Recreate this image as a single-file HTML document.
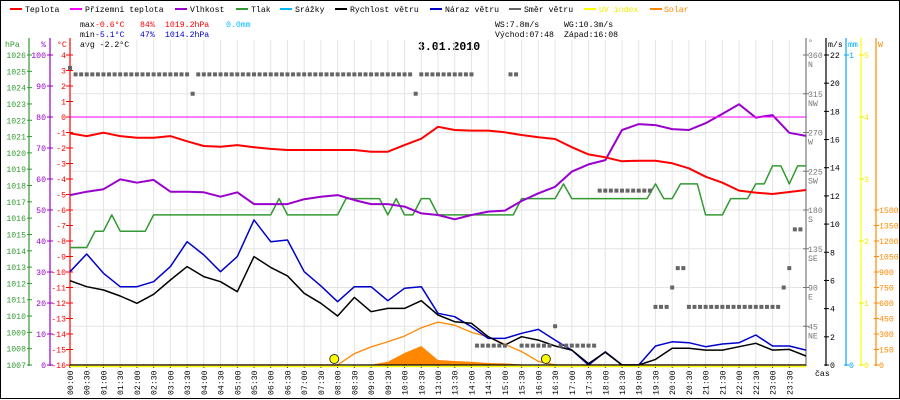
<!DOCTYPE html>
<html><head><meta charset="utf-8"><style>
html,body{margin:0;padding:0;background:#fff}
svg{display:block}
text{font-family:"Liberation Mono",monospace;font-size:8.2px}
</style></head><body>
<svg id="c" width="900" height="400" viewBox="0 0 900 400" xmlns="http://www.w3.org/2000/svg">
<rect x="0.5" y="0.5" width="899" height="398" fill="#fff" stroke="#000"/>
<g id="legend">
<g><rect x="10" y="8" width="12" height="2" fill="#f00"/><text x="25" y="12">Teplota</text></g>
<g><rect x="70" y="8" width="12" height="2" fill="#f0f"/><text x="85" y="12">Přízemní teplota</text></g>
<g><rect x="175" y="8" width="12" height="2" fill="#90c"/><text x="190" y="12">Vlhkost</text></g>
<g><rect x="236" y="8" width="12" height="2" fill="#393"/><text x="251" y="12">Tlak</text></g>
<g><rect x="280" y="8" width="12" height="2" fill="#0bf"/><text x="295" y="12">Srážky</text></g>
<g><rect x="335" y="8" width="12" height="2" fill="#000"/><text x="350" y="12">Rychlost větru</text></g>
<g><rect x="430" y="8" width="12" height="2" fill="#00c"/><text x="445" y="12">Náraz větru</text></g>
<g><rect x="509" y="8" width="12" height="2" fill="#666"/><text x="524" y="12">Směr větru</text></g>
<g><rect x="584" y="8" width="12" height="2" fill="#ff0"/><text x="599" y="12" fill="#ee0">UV index</text></g>
<g><rect x="650" y="8" width="12" height="2" fill="#f80"/><text x="664" y="12" fill="#f80">Solar</text></g>
</g>
<g>
<text x="80" y="27">max</text><text x="95" y="27" fill="#f00">-0.6°C</text><text x="140" y="27" fill="#f00">84%</text><text x="165" y="27" fill="#f00">1019.2hPa</text><text x="226" y="27" fill="#0bf">0.0mm</text>
<text x="80" y="37">min</text><text x="95" y="37" fill="#00c">-5.1°C</text><text x="140" y="37" fill="#00c">47%</text><text x="165" y="37" fill="#00c">1014.2hPa</text>
<text x="80" y="47">avg -2.2°C</text>
<text x="495" y="27">WS:7.8m/s</text><text x="564" y="27">WG:10.3m/s</text>
<text x="495" y="37">Východ:07:48</text><text x="564" y="37">Západ:16:08</text>
</g>
<text x="418" y="50" style="font-size:11.5px;font-weight:bold">3.01.2010</text>
<g id="grid"></g>
<g id="axes"></g>
<g id="series"></g>
</svg>
<script>
const timeLabels=["00:00","00:30","01:00","01:30","02:00","02:30","03:00","03:30","04:00","04:30","05:00","05:30","06:00","06:30","07:00","07:30","08:00","08:30","09:00","09:30","10:00","10:30","13:00","13:30","14:00","14:30","15:00","15:30","16:00","16:30","17:00","17:30","18:00","18:30","19:00","19:30","20:00","20:30","21:00","21:30","22:00","22:30","23:00","23:30"];
const temperature=[-1.05,-1.23,-1.01,-1.23,-1.34,-1.34,-1.23,-1.57,-1.87,-1.92,-1.81,-1.95,-2.06,-2.13,-2.13,-2.13,-2.13,-2.13,-2.24,-2.24,-1.81,-1.4,-0.63,-0.84,-0.88,-0.88,-0.99,-1.16,-1.31,-1.42,-1.95,-2.41,-2.6,-2.86,-2.82,-2.82,-2.99,-3.31,-3.85,-4.24,-4.75,-4.88,-4.97,-4.84,-4.71];
const apparentTemp=[0,0,0,0,0,0,0,0,0,0,0,0,0,0,0,0,0,0,0,0,0,0,0,0,0,0,0,0,0,0,0,0,0,0,0,0,0,0,0,0,0,0,0,0,0];
const humidity=[54.8,55.9,56.7,59.9,58.8,59.7,55.9,55.9,55.7,54.3,55.7,51.9,51.9,51.9,53.5,54.3,54.8,53.2,51.9,51.9,51.1,48.9,48.4,47,48.4,49.5,49.8,52.9,55.4,57.5,62.4,64.7,66.1,75.8,77.7,77.4,76.1,75.8,78,81,84.1,79.8,80.6,74.9,73.9];
const pressure=[1014.2,1014.2,1014.2,1015.2,1015.2,1016.2,1015.2,1015.2,1015.2,1015.2,1016.2,1016.2,1016.2,1016.2,1016.2,1016.2,1016.2,1016.2,1016.2,1016.2,1016.2,1016.2,1016.2,1016.2,1016.2,1017.2,1016.2,1016.2,1016.2,1016.2,1016.2,1016.2,1016.2,1017.2,1017.2,1017.2,1017.2,1017.2,1016.2,1017.2,1016.2,1016.2,1017.2,1017.2,1016.2,1016.2,1016.2,1016.2,1016.2,1016.2,1016.2,1016.2,1016.2,1016.2,1017.2,1017.2,1017.2,1017.2,1017.2,1018.1,1017.2,1017.2,1017.2,1017.2,1017.2,1017.2,1017.2,1017.2,1017.2,1017.2,1018.1,1017.2,1017.2,1018.1,1018.1,1018.1,1016.2,1016.2,1016.2,1017.2,1017.2,1017.2,1018.1,1018.1,1019.2,1019.2,1018.1,1019.2,1019.2];
const windSpeed=[5.98,5.56,5.32,4.9,4.38,5.02,6.03,6.98,6.27,5.91,5.2,7.69,6.93,6.32,5.09,4.38,3.48,4.8,3.78,4.02,4.02,4.56,3.55,3.07,2.96,2.01,1.42,2.01,1.77,1.35,1.06,0.1,0.9,0,0,0.4,1.19,1.19,1.06,1.06,1.3,1.54,1.06,1.11,0.64];
const windGust=[6.62,7.88,6.51,5.56,5.56,5.91,6.98,8.75,7.81,6.62,7.69,10.3,8.75,8.87,6.62,5.61,4.49,5.56,5.56,4.56,5.44,5.56,3.67,3.43,2.72,1.89,1.89,2.25,2.53,1.77,1.06,0,0.94,0,0,1.35,1.65,1.58,1.3,1.49,1.58,2.13,1.35,1.35,1.06];
const windDir=[345,337.5,337.5,337.5,337.5,337.5,337.5,337.5,337.5,337.5,337.5,337.5,337.5,337.5,337.5,337.5,337.5,337.5,337.5,337.5,337.5,337.5,315,337.5,337.5,337.5,337.5,337.5,337.5,337.5,337.5,337.5,337.5,337.5,337.5,337.5,337.5,337.5,337.5,337.5,337.5,337.5,337.5,337.5,337.5,337.5,337.5,337.5,337.5,337.5,337.5,337.5,337.5,337.5,337.5,337.5,337.5,337.5,337.5,337.5,337.5,337.5,315,337.5,337.5,337.5,337.5,337.5,337.5,337.5,337.5,337.5,337.5,22.5,22.5,22.5,22.5,22.5,22.5,337.5,337.5,22.5,22.5,22.5,22.5,22.5,22.5,45,22.5,22.5,22.5,22.5,22.5,22.5,22.5,202.5,202.5,202.5,202.5,202.5,202.5,202.5,202.5,202.5,202.5,67.5,67.5,67.5,90,112.5,112.5,67.5,67.5,67.5,67.5,67.5,67.5,67.5,67.5,67.5,67.5,67.5,67.5,67.5,67.5,67.5,67.5,67.5,90,112.5,157.5,157.5];
const solarMeasured=[0,0,0,0,0,0,0,0,0,0,0,0,0,0,0,0,0,0,3,32,116,184,48,39,32,19,15,5,0,0,0,0,0,0,0,0,0,0,0,0,0,0,0,0,0];
const solarTheoretical=[0,0,0,0,0,0,0,0,0,0,0,0,0,0,0,0,0,110,175,225,280,360,415,385,315,274,200,130,35,0,0,0,0,0,0,0,0,0,0,0,0,0,0,0,0];
const sunEvents=[15.8,28.45];
const tempTicks=[4,3,2,1,0,-1,-2,-3,-4,-5,-6,-7,-8,-9,-10,-11,-12,-13,-14,-15,-16];
const humTicks=[100,90,80,70,60,50,40,30,20,10,0];
const presTicks=[1026,1025,1024,1023,1022,1021,1020,1019,1018,1017,1016,1015,1014,1013,1012,1011,1010,1009,1008,1007];
const dirTicks=[360,315,270,225,180,135,90,45];
const dirNames=["N","NW","W","SW","S","SE","E","NE"];
const windTicks=[22,20,18,16,14,12,10,8,6,4,2,0];
const uvTicks=[5,4,3,2,1,0];
const solarTicks=[1500,1350,1200,1050,900,750,600,450,300,150,0];

const NS="http://www.w3.org/2000/svg";
const T=55,B=365,L=70,R=806;
const X=i=>L+i*(R-L)/44;
const Xd=k=>L+k*(R-L)/132;
const yT=v=>T+(4-v)*(B-T)/20;
const yH=v=>B-v*(B-T)/100;
const yP=v=>T+(1026-v)*(B-T)/19;
const yD=v=>B-v*(B-T)/360;
const yW=v=>B-v*(B-T)/22;
const yU=v=>B-v*(B-T)/5;
const yS=v=>B-v*15.5/150;
function el(tag,attrs,parent,txt){const e=document.createElementNS(NS,tag);for(const k in attrs)e.setAttribute(k,attrs[k]);if(txt!==undefined)e.textContent=txt;parent.appendChild(e);return e;}
const grid=document.getElementById('grid'),axes=document.getElementById('axes'),ser=document.getElementById('series');
// grid
for(let i=0;i<=44;i++){const g=el('line',{x1:X(i),x2:X(i),y1:40,y2:B,stroke:'#e4e4e4'},grid);

}
dirTicks.forEach(d=>{if(d===360)return;const g=el('line',{x1:L,x2:R,y1:yD(d),y2:yD(d),stroke:'#e4e4e4'},grid);

});
// left axes
function vaxis(x,color,name){const a=el('line',{x1:x,x2:x,y1:38,y2:B+1,stroke:color,'stroke-width':1.2},axes);

}
vaxis(29,'#393','pressure-axis');vaxis(50,'#90c','humidity-axis');vaxis(70,'#f00','temperature-axis');
el('text',{x:5,y:47,fill:'#393'},axes,'hPa');el('text',{x:41,y:47,fill:'#90c'},axes,'%');el('text',{x:57,y:47,fill:'#f00'},axes,'°C');
presTicks.forEach(v=>{el('line',{x1:27,x2:32,y1:yP(v),y2:yP(v),stroke:'#393'},axes);const t=el('text',{x:26,y:yP(v)+3,'text-anchor':'end',fill:'#393'},axes,v);

});
humTicks.forEach(v=>{el('line',{x1:47,x2:53,y1:yH(v),y2:yH(v),stroke:'#90c'},axes);const t=el('text',{x:46,y:yH(v)+3,'text-anchor':'end',fill:'#90c'},axes,v);

});
tempTicks.forEach(v=>{el('line',{x1:66,x2:73,y1:yT(v),y2:yT(v),stroke:'#f00'},axes);const t=el('text',{x:66,y:yT(v)+3,'text-anchor':'end',fill:'#f00'},axes,v);

});
// right axes
vaxis(806,'#777','direction-axis');vaxis(826,'#000','wind-axis');vaxis(846,'#0af','rain-axis');vaxis(861,'#ff0','uv-axis');vaxis(876,'#f80','solar-axis');
el('text',{x:808,y:45,fill:'#777'},axes,'°');el('text',{x:828,y:47},axes,'m/s');el('text',{x:848,y:47,fill:'#0af'},axes,'mm');el('text',{x:878,y:47,fill:'#f80'},axes,'W');
dirTicks.forEach((d,j)=>{const y=yD(d);el('line',{x1:803,x2:809,y1:y,y2:y,stroke:'#777'},axes);const t=el('text',{x:808,y:y+3,fill:'#777'},axes,d);


el('text',{x:808,y:y+12,fill:'#777'},axes,dirNames[j]);});
windTicks.forEach(v=>{el('line',{x1:824,x2:829,y1:yW(v),y2:yW(v),stroke:'#000'},axes);const t=el('text',{x:830,y:yW(v)+3},axes,v);

});
[1,0].forEach(v=>{const y=B-v*(B-T);el('line',{x1:844,x2:849,y1:y,y2:y,stroke:'#0af'},axes);el('text',{x:849,y:y+3,fill:'#0af'},axes,v);});
uvTicks.forEach(v=>{el('line',{x1:859,x2:864,y1:yU(v),y2:yU(v),stroke:'#ee0'},axes);el('text',{x:864,y:yU(v)+3,fill:'#ee0'},axes,v);});
solarTicks.forEach(v=>{el('line',{x1:874,x2:879,y1:yS(v),y2:yS(v),stroke:'#f80'},axes);const t=el('text',{x:879,y:yS(v)+3,fill:'#f80'},axes,v);

});
// time labels
timeLabels.forEach((s,i)=>{el('line',{x1:X(i),x2:X(i),y1:B,y2:B+3,stroke:'#000'},axes);const t=el('text',{x:0,y:0,transform:`translate(${X(i)+3},395) rotate(-90)`},axes,s);

});
el('text',{x:815,y:376},axes,'čas');
// series
function line(arr,yf,xf,color,w,name){const p=arr.map((v,i)=>xf(i).toFixed(1)+','+yf(v).toFixed(1)).join(' ');const e=el('polyline',{points:p,fill:'none',stroke:color,'stroke-width':w,'stroke-linejoin':'round'},ser);

return e;}
const sp=solarMeasured.map((v,i)=>X(i).toFixed(1)+','+yS(v).toFixed(1)).join(' ');
const area=el('polygon',{points:`${X(0)},${B} ${sp} ${X(44)},${B}`,fill:'#f80'},ser);


line(solarTheoretical,yS,X,'#f80',1.3,'solar-theoretical-line');
line(pressure,yP,i=>L+i*(R-L)/88,'#393',1.5,'pressure-line');
line(humidity,yH,X,'#90c',2,'humidity-line');
line(apparentTemp,yT,X,'#f0f',1,'apparent-temperature-line');
line(temperature,yT,X,'#f00',2,'temperature-line');
line(windGust,yW,X,'#00c',1.5,'wind-gust-line');
line(windSpeed,yW,X,'#000',1.5,'wind-speed-line');
windDir.forEach((d,k)=>{if(d===null)return;const r=el('rect',{x:Xd(k)-2,y:yD(d)-2,width:4,height:4,fill:'#666'},ser);

});
el('line',{x1:L,x2:R,y1:B,y2:B,stroke:'#000','stroke-width':1.2},ser);
const uv=el('line',{x1:L,x2:R,y1:B+1.5,y2:B+1.5,stroke:'#ff0','stroke-width':1.5},ser);


sunEvents.forEach(i=>{const c=el('circle',{cx:X(i),cy:B-6,r:4.5,fill:'#ff0',stroke:'#333','stroke-width':1},ser);

});
</script>
</body></html>
